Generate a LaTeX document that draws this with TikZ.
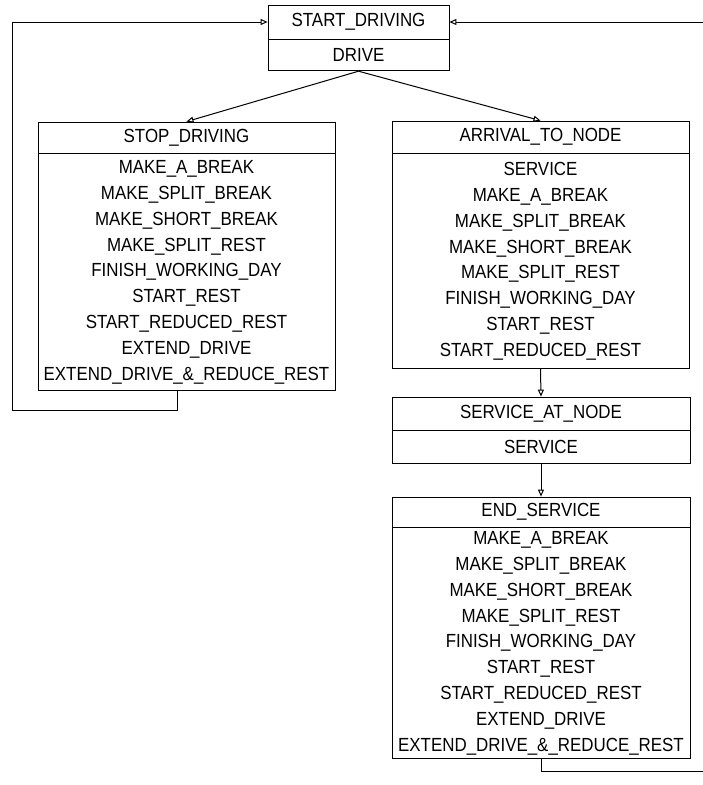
\documentclass[tikz,border=0pt]{standalone}
\usepackage{fontspec}
\setmainfont[FakeStretch=0.89]{Liberation Sans}
\usetikzlibrary{arrows.meta}
\tikzset{every picture/.style={line width=0.8pt},
  head/.style={draw,minimum height=32pt,inner sep=0pt,font=\fontsize{19}{25.8}\selectfont},
  list/.style={draw,anchor=north,inner sep=0pt,align=center,font=\fontsize{19}{25.8}\selectfont},
  link/.style={line width=1pt,-{Triangle[open,length=7pt,width=6pt]}}}

\begin{document}
\begin{tikzpicture}[x=1pt,y=-1pt]
\useasboundingbox (0,0) rectangle (703,785);
\node[head,minimum width=181pt,minimum height=34pt] (start) at (358.5,22) {START\_DRIVING};
\node[list,minimum width=181pt,minimum height=31pt] (drive) at (start.south) {DRIVE};
\node[head,minimum width=297pt,minimum height=31pt] (stop) at (186.5,137.5) {STOP\_DRIVING};
\node[list,minimum width=297pt,minimum height=237pt] (stoplist) at (stop.south)
  {MAKE\_A\_BREAK\\ MAKE\_SPLIT\_BREAK\\ MAKE\_SHORT\_BREAK\\ MAKE\_SPLIT\_REST\\
   FINISH\_WORKING\_DAY\\ START\_REST\\ START\_REDUCED\_REST\\ EXTEND\_DRIVE\\
   EXTEND\_DRIVE\_\&\_REDUCE\_REST};
\node[head,minimum width=297pt] (arrival) at (540.5,137) {ARRIVAL\_TO\_NODE};
\node[list,minimum width=297pt,minimum height=215pt] (arrivallist) at (arrival.south)
  {SERVICE\\ MAKE\_A\_BREAK\\ MAKE\_SPLIT\_BREAK\\ MAKE\_SHORT\_BREAK\\ MAKE\_SPLIT\_REST\\
   FINISH\_WORKING\_DAY\\ START\_REST\\ START\_REDUCED\_REST};
\node[head,minimum width=298pt,minimum height=33pt] (atnode) at (541,413.5) {SERVICE\_AT\_NODE};
\node[list,minimum width=298pt,minimum height=33pt] (service) at (atnode.south) {SERVICE};
\node[head,minimum width=298pt,minimum height=30pt] (endsrv) at (541,512) {END\_SERVICE};
\node[list,minimum width=298pt,minimum height=231pt] (endlist) at (endsrv.south)
  {MAKE\_A\_BREAK\\ MAKE\_SPLIT\_BREAK\\ MAKE\_SHORT\_BREAK\\ MAKE\_SPLIT\_REST\\
   FINISH\_WORKING\_DAY\\ START\_REST\\ START\_REDUCED\_REST\\ EXTEND\_DRIVE\\
   EXTEND\_DRIVE\_\&\_REDUCE\_REST};
\draw[link] (drive.south) -- (stop.north);
\draw[link] (drive.south) -- (arrival.north);
\draw[link] (arrivallist.south) -- (atnode.north);
\draw[link] (service.south) -- (endsrv.north);
\coordinate (lcorner) at (12,410);
\draw[link] ([xshift=-9pt]stoplist.south) |- (lcorner) |- (start.west);
\coordinate (rout) at (703,771);
\coordinate (rin) at (703,22);
\draw[line width=1pt] (endlist.south) |- (rout);
\draw[link] (rin) -- (start.east);
\end{tikzpicture}
\end{document}
